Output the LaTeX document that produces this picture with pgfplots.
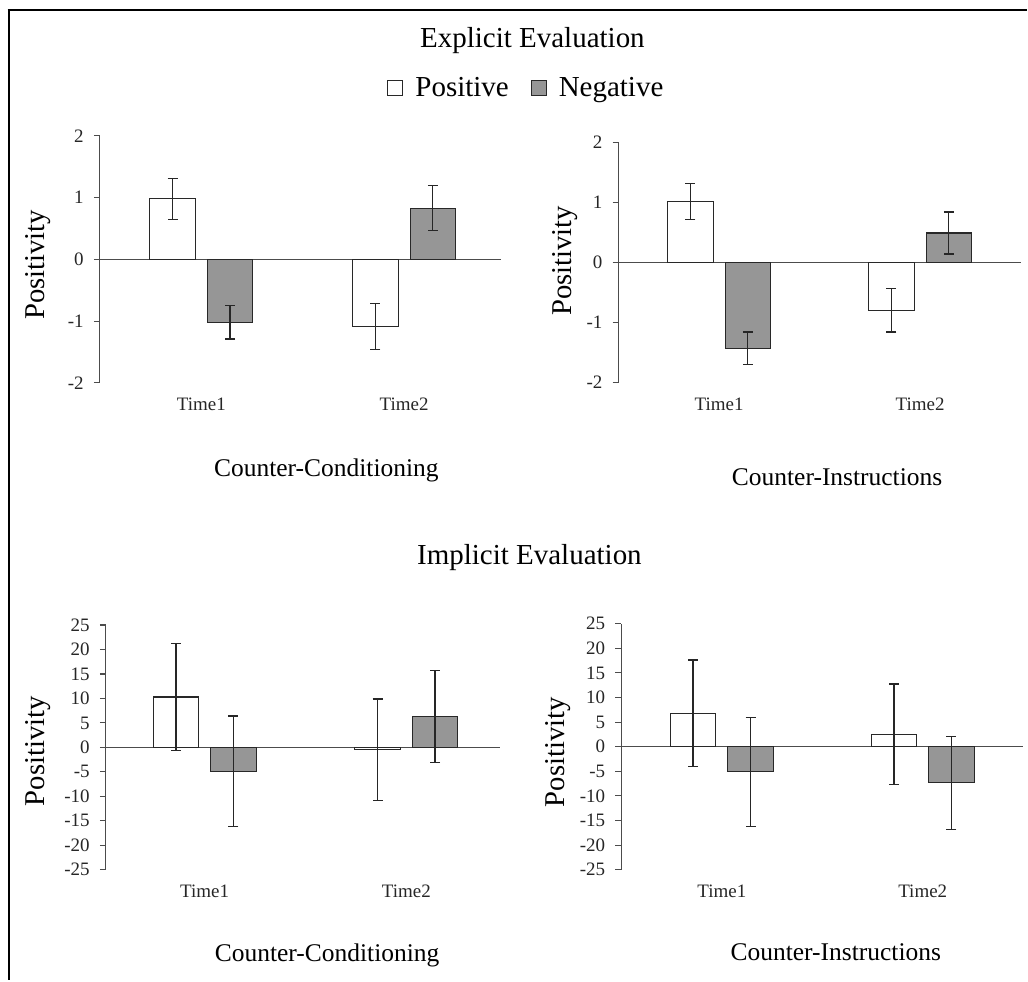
\documentclass[border=0pt]{standalone}
\usepackage{fontspec}
\setmainfont{Liberation Serif}
\usepackage{pgfplots}
\pgfplotsset{compat=1.18}
\usepackage{pgfplotstable}

\definecolor{negfill}{RGB}{150,150,150}
\definecolor{edge}{RGB}{40,40,40}

% Explicit, Counter-Conditioning
\pgfplotstableread{
x pos perr neg nerr
0 0.98 0.33 -1.02 0.27
1 -1.09 0.37 0.83 0.36
}\dataA
% Explicit, Counter-Instructions
\pgfplotstableread{
x pos perr neg nerr
0 1.02 0.30 -1.43 0.27
1 -0.80 0.36 0.49 0.35
}\dataB
% Implicit, Counter-Conditioning
\pgfplotstableread{
x pos perr neg nerr
0 10.3 10.9 -4.9 11.3
1 -0.5 10.4 6.3 9.4
}\dataC
% Implicit, Counter-Instructions
\pgfplotstableread{
x pos perr neg nerr
0 6.8 10.8 -5.1 11.05
1 2.5 10.25 -7.3 9.45
}\dataD

\newcommand{\tickfont}{\fontsize{19bp}{21bp}\selectfont}

\pgfplotsset{
  panel/.style={
    scale only axis,
    ybar=12bp, bar width=45.5bp,
    axis y line*=left, axis x line*=bottom,
    x axis line style={draw=none},
    y axis line style={-, draw=black!70, line width=1.1bp},
    xtick={0,1}, xticklabels={Time1,Time2},
    xtick style={draw=none},
    ytick style={draw=black!70, line width=1.1bp},
    tick align=outside, major tick length=6bp,
    enlargelimits=false,
    /pgf/number format/assume math mode=true,
    yticklabel={\tickfont\pgfmathprintnumber[assume math mode=true]{\tick}},
    yticklabel style={text=black!85, inner sep=2bp, xshift=-8bp},
    xticklabel style={font=\fontsize{19bp}{21bp}\selectfont, black!85, yshift=-6bp},
    clip=false,
    error bars/y dir=both, error bars/y explicit,
    error bars/error bar style={line width=1.2bp, draw=black!85},
    error bars/error mark options={rotate=90, mark size=5bp, line width=1.2bp, draw=black!85},
  },
  posbar/.style={fill=white, draw=edge, line width=1.1bp},
  negbar/.style={fill=negfill, draw=edge, line width=1.1bp},
}

\begin{document}
\begin{tikzpicture}
\path (0bp,0bp) rectangle (1028bp,981bp);
\draw[line width=2.2bp] (8.7bp,0bp) -- (8.7bp,972bp);
\draw[line width=2.2bp] (7.6bp,971bp) -- (1028bp,971bp);

% Panel 1
\begin{axis}[panel, at={(100bp,597.7bp)}, anchor=south west,
  width=402bp, height=247.3bp, xmin=-0.5, xmax=1.48,
  ymin=-2, ymax=2, ytick={-2,-1,0,1,2},
  legend style={at={(axis description cs:1.062,1.194)}, anchor=center,
    draw=none, fill=none, legend columns=2,
    font=\fontsize{29bp}{32bp}\selectfont,
    /tikz/every odd column/.append style={column sep=10bp},
    /tikz/every even column/.append style={column sep=20bp}},
  legend image code/.code={\draw[#1] (0bp,-7.5bp) rectangle (15bp,7.5bp);},
]
\draw[black!70, line width=1.1bp] (axis cs:-0.5,0) -- (axis cs:1.48,0);
\addplot[posbar] table[x=x, y=pos, y error=perr] {\dataA};
\addplot[negbar] table[x=x, y=neg, y error=nerr] {\dataA};
\legend{Positive, Negative}
\end{axis}

% Panel 2
\begin{axis}[panel, at={(619.3bp,598.3bp)}, anchor=south west,
  width=402.4bp, height=240bp, xmin=-0.5, xmax=1.5,
  ymin=-2, ymax=2, ytick={-2,-1,0,1,2}]
\draw[black!70, line width=1.1bp] (axis cs:-0.5,0) -- (axis cs:1.5,0);
\addplot[posbar] table[x=x, y=pos, y error=perr] {\dataB};
\addplot[negbar] table[x=x, y=neg, y error=nerr] {\dataB};
\end{axis}

% Panel 3
\begin{axis}[panel, at={(106bp,110.3bp)}, anchor=south west,
  width=395bp, height=245bp, xmin=-0.49, xmax=1.467,
  ymin=-25, ymax=25, ytick={-25,-20,...,25}]
\draw[black!70, line width=1.1bp] (axis cs:-0.49,0) -- (axis cs:1.467,0);
\addplot[posbar] table[x=x, y=pos, y error=perr] {\dataC};
\addplot[negbar] table[x=x, y=neg, y error=nerr] {\dataC};
\end{axis}

% Panel 4
\begin{axis}[panel, at={(622bp,110.3bp)}, anchor=south west,
  width=402.3bp, height=246.4bp, xmin=-0.5, xmax=1.5,
  ymin=-25, ymax=25, ytick={-25,-20,...,25}]
\draw[black!70, line width=1.1bp] (axis cs:-0.5,0) -- (axis cs:1.5,0);
\addplot[posbar] table[x=x, y=pos, y error=perr] {\dataD};
\addplot[negbar] table[x=x, y=neg, y error=nerr] {\dataD};
\end{axis}

% Titles and labels
\node[anchor=base, font=\fontsize{29bp}{32bp}\selectfont] at (533bp,933bp) {Explicit Evaluation};
\node[anchor=base, font=\fontsize{29bp}{32bp}\selectfont] at (530bp,416bp) {Implicit Evaluation};
\node[anchor=base, font=\fontsize{25.5bp}{28bp}\selectfont] at (326.7bp,504.3bp) {Counter-Conditioning};
\node[anchor=base, font=\fontsize{25.5bp}{28bp}\selectfont] at (838bp,495bp) {Counter-Instructions};
\node[anchor=base, font=\fontsize{25.5bp}{28bp}\selectfont] at (327.5bp,18bp) {Counter-Conditioning};
\node[anchor=base, font=\fontsize{25.5bp}{28bp}\selectfont] at (836.7bp,19bp) {Counter-Instructions};
\node[rotate=90, font=\fontsize{28.7bp}{30bp}\selectfont] at (38bp,716bp) {Positivity};
\node[rotate=90, font=\fontsize{28.7bp}{30bp}\selectfont] at (566bp,720bp) {Positivity};
\node[rotate=90, font=\fontsize{28.7bp}{30bp}\selectfont] at (38bp,229bp) {Positivity};
\node[rotate=90, font=\fontsize{28.7bp}{30bp}\selectfont] at (559bp,228bp) {Positivity};
\end{tikzpicture}
\end{document}
